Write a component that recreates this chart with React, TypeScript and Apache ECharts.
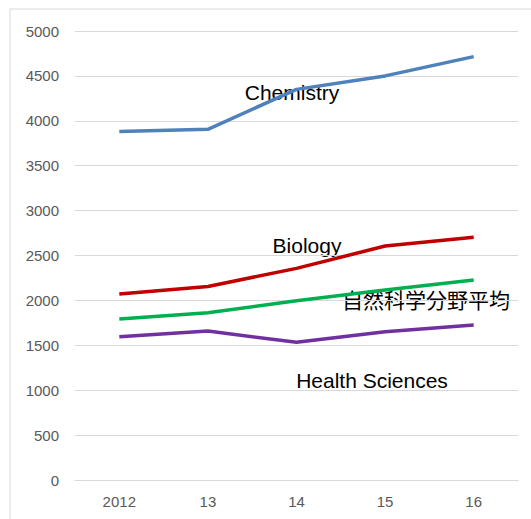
import React, { useEffect, useRef } from "react";
import * as echarts from "echarts";

const years = ["2012", "13", "14", "15", "16"];
const chemistry = [3880, 3905, 4350, 4500, 4715];
const biology = [2070, 2155, 2357, 2605, 2702];
const naturalAvg = [1793, 1863, 1997, 2116, 2227];
const health = [1596, 1659, 1533, 1652, 1726];

const seriesNames = ["Chemistry", "Biology", "自然科学分野平均", "Health Sciences"];
const colors = ["#4f81bd", "#c00000", "#00b050", "#7030a0"];

export default function App() {
  const ref = useRef<HTMLDivElement>(null);
  useEffect(() => {
    const chart = echarts.init(ref.current!, null, { renderer: "svg" });
    const data = [chemistry, biology, naturalAvg, health];
    const labelFont = '"Liberation Sans", Arial, sans-serif';
    chart.setOption({
      animation: false,
      grid: { left: 75, right: 13, top: 31, bottom: 39 },
      xAxis: {
        type: "category",
        data: years,
        boundaryGap: true,
        axisLine: { show: true, lineStyle: { color: "#d9d9d9", width: 1 } },
        axisTick: { show: false },
        axisLabel: { color: "#595959", fontSize: 15, fontFamily: labelFont, margin: 14 },
      },
      yAxis: {
        type: "value",
        min: 0,
        max: 5000,
        interval: 500,
        axisLine: { show: false },
        axisTick: { show: false },
        splitLine: { lineStyle: { color: "#d9d9d9", width: 1 } },
        axisLabel: {
          color: "#595959",
          fontSize: 15,
          fontFamily: labelFont,
          margin: 16,
          formatter: (v: number) => String(v),
        },
      },
      series: data.map((d, i) => ({
        name: seriesNames[i],
        type: "line",
        data: d,
        symbol: "none",
        lineStyle: { color: colors[i], width: 3.5 },
        itemStyle: { color: colors[i] },
      })),
      graphic: [
        {
          type: "rect",
          shape: { x: 10, y: 9, width: 700, height: 700 },
          style: { fill: "none", stroke: "#d9d9d9", lineWidth: 1 },
          silent: true,
        },
        {
          type: "text",
          x: 292,
          y: 92,
          style: { text: "Chemistry", fontSize: 21, fontFamily: labelFont, fill: "#000", align: "center", verticalAlign: "middle" },
        },
        {
          type: "text",
          x: 307,
          y: 245,
          style: { text: "Biology", fontSize: 21, fontFamily: labelFont, fill: "#000", align: "center", verticalAlign: "middle" },
        },
        {
          type: "text",
          x: 426,
          y: 299,
          style: { text: "自然科学分野平均", fontSize: 21, fontFamily: '"Noto Sans CJK JP", sans-serif', fill: "#000", align: "center", verticalAlign: "middle" },
        },
        {
          type: "text",
          x: 372,
          y: 380,
          style: { text: "Health Sciences", fontSize: 21, fontFamily: labelFont, fill: "#000", align: "center", verticalAlign: "middle" },
        },
      ],
    });
    return () => chart.dispose();
  }, []);
  return (
    <div
      ref={ref}
      style={{ position: "absolute", left: 0, top: 0, width: 531, height: 519, background: "#fff" }}
    />
  );
}
